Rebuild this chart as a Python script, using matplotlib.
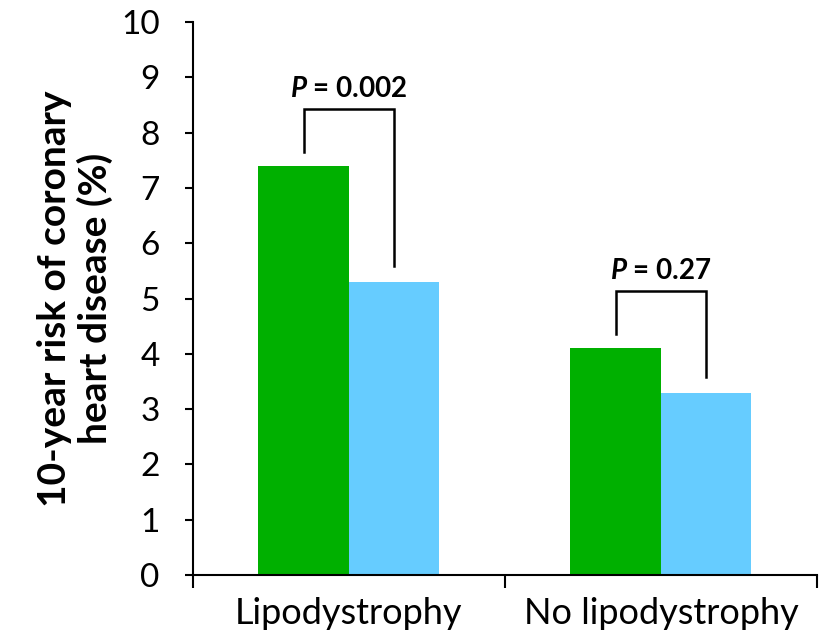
import matplotlib
matplotlib.use("Agg")
import matplotlib.pyplot as plt
import numpy as np

grupos = ["Lipodystrophy", "No lipodystrophy"]
risco_verde = [7.4, 4.1]
risco_azul = [5.3, 3.3]
p_textos = ["0.002", "0.27"]
y_ticks = list(range(0, 11))

plt.rcParams["font.family"] = ["Lato", "DejaVu Sans"]
plt.rcParams["mathtext.fontset"] = "custom"
plt.rcParams["mathtext.it"] = "Lato:italic:bold"

fig = plt.figure(figsize=(8.3, 6.36), dpi=100)
ax = fig.add_axes([0.2325, 0.0959, 0.7518, 0.8695])

x = np.arange(len(grupos))
largura = 0.29
ax.bar(x - largura / 2, risco_verde, largura, color="#00B000")
ax.bar(x + largura / 2, risco_azul, largura, color="#66CCFF")

# colchetes com valor de P
for i in range(len(grupos)):
    xe = x[i] - largura / 2
    xd = x[i] + largura / 2
    topo = risco_verde[i] + 1.03
    ax.plot([xe, xe, xd, xd],
            [risco_verde[i] + 0.25, topo, topo, risco_azul[i] + 0.28],
            color="black", lw=1.8, solid_joinstyle="miter")
    ax.text(x[i], topo + 0.36, r"$P$" + " = " + p_textos[i],
            ha="center", va="center", fontsize=20, fontweight="bold")

ax.set_xlim(-0.5, 1.5)
ax.set_ylim(0, 10)
ax.set_yticks(y_ticks)
ax.set_xticks([-0.5, 0.5, 1.5])
ax.set_xticklabels([])
ax.set_xticks(x, minor=True)
ax.set_xticklabels(grupos, minor=True, fontsize=26)
ax.tick_params(axis="x", which="minor", length=0, pad=16)
ax.tick_params(axis="x", which="major", length=9, width=1.5, direction="out")
ax.tick_params(axis="y", length=6, width=1.5, direction="out", labelsize=24, pad=18)
ax.spines["top"].set_visible(False)
ax.spines["right"].set_visible(False)
ax.spines["left"].set_linewidth(1.5)
ax.spines["bottom"].set_linewidth(1.5)

ax.set_ylabel("10-year risk of coronary\nheart disease (%)", fontsize=28,
              fontweight="bold", labelpad=6, linespacing=1.15)

fig.savefig("out.png", dpi=100)
